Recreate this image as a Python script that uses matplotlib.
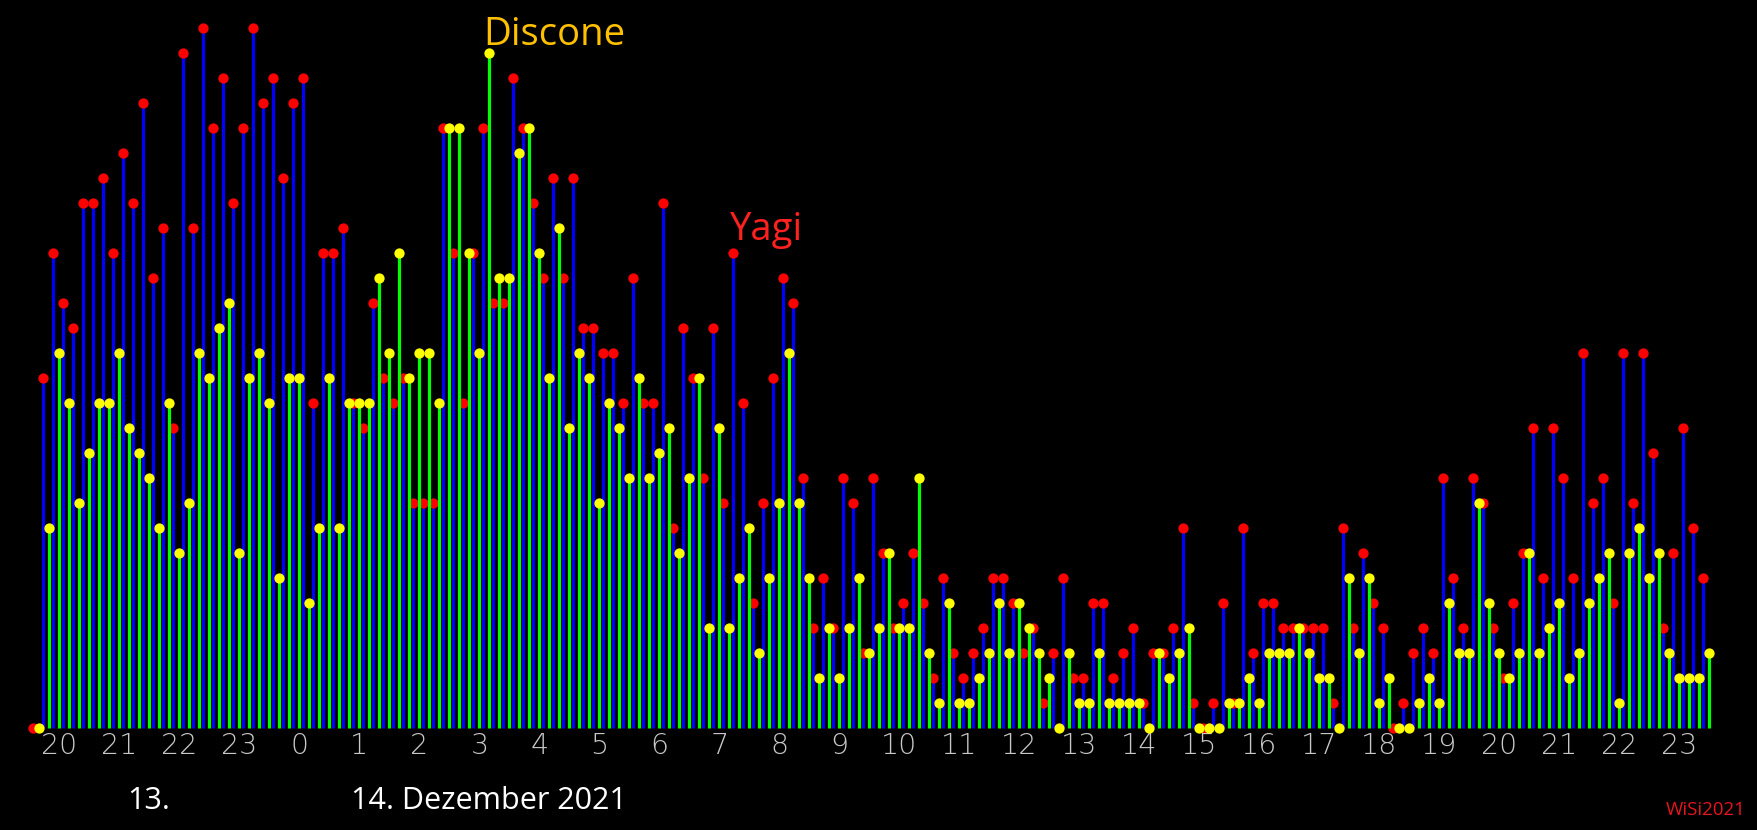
import matplotlib
matplotlib.use("Agg")
import matplotlib.pyplot as plt
import numpy as np

# ---- data (10-minute samples from 13 Dec 20:00 to 14 Dec 23:50) ----
yagi = [0,
        14, 19, 17, 16, 21, 21, 22, 19, 23, 21, 25, 18,
        20, 12, 27, 20, 28, 24, 26, 21, 24, 28, 25, 26, 22,
        25, 26, 13, 19, 19, 20, 13, 12, 17, 14, 13, 14, 9, 9,
        9, 24, 19, 13, 19, 24, 17, 17, 26, 24, 21, 18, 22, 18,
        22, 16, 16, 15, 15, 13, 18, 13, 13, 21, 8, 16, 14, 10,
        16, 9, 19, 13, 5, 9, 14, 18, 17, 10, 4, 6, 4, 10, 9,
        3, 10, 7, 4, 5, 7, 5, 2, 6, 3, 2, 3, 4, 6,
        6, 5, 3, 4, 1, 3, 6, 2, 2, 5, 5, 2, 3, 4, 1,
        3, 3, 4, 8, 1, 0, 1, 5, 1, 8, 3, 5, 5, 4, 4,
        4, 4, 4, 1, 8, 4, 7, 5, 4, 0, 1, 3, 4, 3,
        10, 6, 4, 10, 9, 4, 2, 5, 7, 12, 6, 12, 10, 6,
        15, 9, 10, 5, 15, 9, 15, 11, 4, 7, 12, 8, 6]

discone = [0,
           8, 15, 13, 9, 11, 13, 13, 15, 12, 11, 10, 8,
           13, 7, 9, 15, 14, 16, 17, 7, 14, 15, 13, 6, 14,
           14, 5, 8, 14, 8, 13, 13, 13, 18, 15, 19, 14, 15, 15,
           13, 24, 24, 19, 15, 27, 18, 18, 23, 24, 19, 14, 20, 12,
           15, 14, 9, 13, 12, 10, 14, 10, 11, 12, 7, 10, 14, 4,
           12, 4, 6, 8, 3, 6, 9, 15, 9, 6, 2, 4, 2, 4, 6,
           3, 4, 7, 4, 4, 10, 3, 1, 5, 1, 1, 2, 3, 5,
           3, 5, 4, 3, 2, 0, 3, 1, 1, 3, 1, 1, 1, 1, 0,
           3, 2, 3, 4, 0, 0, 0, 1, 1, 2, 1, 3, 3, 3, 4,
           3, 2, 2, 0, 6, 3, 6, 1, 2, 0, 0, 1, 2, 1,
           5, 3, 3, 9, 5, 3, 2, 3, 7, 3, 4, 5, 2, 3,
           5, 6, 7, 1, 7, 8, 6, 7, 3, 2, 2, 2, 3]

hour_labels = [str((20 + n) % 24) for n in range(28)]
date_labels = ["13.", "14. Dezember 2021"]

# ---- figure ----
W, H = 1757, 830
fig = plt.figure(figsize=(W / 100, H / 100), dpi=100, facecolor="black")
ax = fig.add_axes([0, 0, 1, 1])
ax.set_facecolor("black")
ax.set_axis_off()

minutes = np.arange(len(yagi)) * 10.0
x_yagi = minutes + 3.6
x_disc = minutes + 9.9

lw = 2.3
ms = 7.4
ax.vlines(x_yagi, 0, yagi, colors="#0000FF", linewidth=lw, zorder=2)
ax.plot(x_yagi, yagi, "o", color="#FF0000", markersize=ms, markeredgewidth=0, zorder=3)
ax.vlines(x_disc, 0, discone, colors="#00FF00", linewidth=lw, zorder=4)
ax.plot(x_disc, discone, "o", color="#FFFF00", markersize=ms, markeredgewidth=0, zorder=5)

ax.set_xlim(-29.4, W - 29.4)
ax.set_ylim((727.5 - H) / 24.97, 727.5 / 24.97)

# hour labels centred in each hour interval
for n, lab in enumerate(hour_labels):
    ax.text(30 + 60 * n, (727.5 - 754) / 24.97, lab, ha="center", va="baseline",
            fontsize=20.5, color="#C8C8C8", family="DejaVu Sans", fontweight="light")

def fx(px):
    return px / W

def fy(py):
    return 1 - py / H

fig.text(fx(127), fy(809), date_labels[0], ha="left", va="baseline",
         fontsize=22, color="white", family="Open Sans")
fig.text(fx(351), fy(809), date_labels[1], ha="left", va="baseline",
         fontsize=22, color="white", family="Open Sans")
fig.text(fx(483), fy(45), "Discone", ha="left", va="baseline",
         fontsize=27.5, color="#FFC000", family="Open Sans")
fig.text(fx(730), fy(239.5), "Yagi", ha="left", va="baseline",
         fontsize=27.5, color="#FF2020", family="Open Sans")
fig.text(fx(1746), fy(815), "WiSi2021", ha="right", va="baseline",
         fontsize=13.5, color="#E8141E", family="Open Sans")

fig.savefig("out.png", dpi=100, facecolor="black")
